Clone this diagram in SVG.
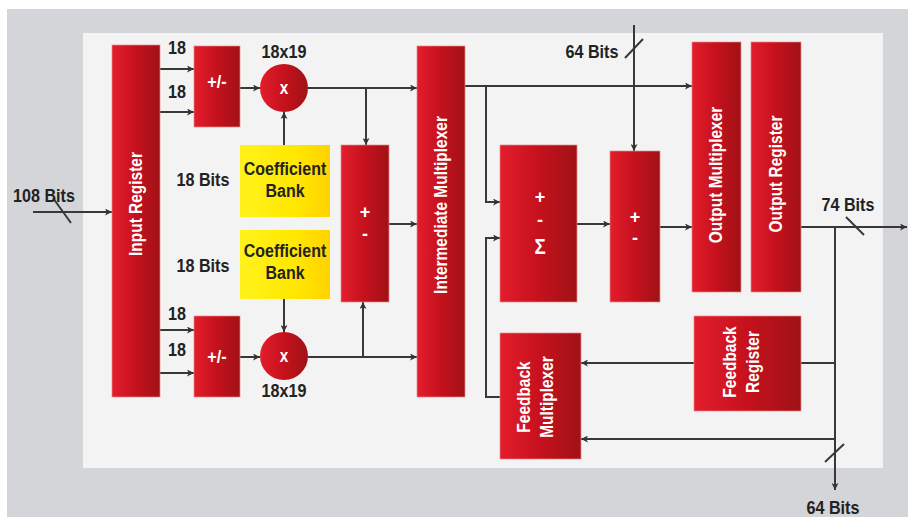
<svg xmlns="http://www.w3.org/2000/svg" width="908" height="517" viewBox="0 0 908 517">
<defs>
<linearGradient id="red" x1="0" y1="0" x2="1" y2="0">
<stop offset="0" stop-color="#e41d2c"/>
<stop offset="0.5" stop-color="#c5111d"/>
<stop offset="1" stop-color="#a01216"/>
</linearGradient>
<linearGradient id="yel" x1="0" y1="0" x2="1" y2="0">
<stop offset="0" stop-color="#fff21c"/>
<stop offset="0.6" stop-color="#ffe800"/>
<stop offset="1" stop-color="#ffd200"/>
</linearGradient>
<marker id="ah" viewBox="0 0 10 10" refX="10" refY="5" markerWidth="8" markerHeight="7" orient="auto-start-reverse" markerUnits="userSpaceOnUse">
<path d="M0,0 L10,5 L0,10 L2.5,5 z" fill="#333"/>
</marker>
<style>
.blk{fill:url(#red);stroke:#ec8a8a;stroke-width:0.7}
.yb{fill:url(#yel)}
.w{fill:#fff;font-family:"Liberation Sans",Arial,sans-serif;font-weight:bold;font-size:18px;text-anchor:middle;dominant-baseline:central}
.k{fill:#222;font-family:"Liberation Sans",Arial,sans-serif;font-weight:bold;font-size:19px;text-anchor:middle;dominant-baseline:central}
.ln{fill:none;stroke:#383838;stroke-width:2}
.ar{marker-end:url(#ah)}
</style>
</defs>
<rect x="7" y="9" width="901" height="508" fill="#d3d5d8"/>
<rect x="83" y="33" width="800" height="435" fill="#f3f3f3"/>

<g id="connectors">
<path class="ln ar" d="M33,212 H112"/>
<path class="ln" d="M53,198 L71,223"/>
<path class="ln ar" d="M160,69 H194"/>
<path class="ln ar" d="M160,112 H194"/>
<path class="ln ar" d="M240,88 H260"/>
<path class="ln ar" d="M284,145 V112"/>
<path class="ln ar" d="M308,88 H417"/>
<path class="ln ar" d="M366,88 V145"/>
<path class="ln ar" d="M389,224 H417"/>
<path class="ln ar" d="M160,330 H194"/>
<path class="ln ar" d="M160,373 H194"/>
<path class="ln ar" d="M240,357 H260"/>
<path class="ln ar" d="M284,299 V332"/>
<path class="ln ar" d="M308,357 H417"/>
<path class="ln ar" d="M363,357 V302"/>
<path class="ln ar" d="M465,86 H692"/>
<path class="ln ar" d="M486,86 V202 H500"/>
<path class="ln ar" d="M500,397 H486 V238 H500"/>
<path class="ln ar" d="M634,25 V151"/>
<path class="ln" d="M625,58 L643,39"/>
<path class="ln ar" d="M577,224 H610"/>
<path class="ln ar" d="M660,227 H692"/>
<path class="ln ar" d="M801,227 H907"/>
<path class="ln" d="M846,217 L864,235"/>
<path class="ln ar" d="M835,227 V490"/>
<path class="ln" d="M825,462 L844,444"/>
<path class="ln" d="M835,363 H801"/>
<path class="ln ar" d="M694,363 H581"/>
<path class="ln ar" d="M835,439 H581"/>
</g>

<g id="input-register"><rect class="blk" x="112" y="45" width="48" height="352"/><text class="w" transform="translate(136,204) rotate(-90) scale(0.86,1)">Input Register</text></g>
<g id="addsub-top"><rect class="blk" x="194" y="46" width="46" height="81"/><text class="w" transform="translate(217,82) scale(0.9,1)">+/-</text></g>
<g id="addsub-bottom"><rect class="blk" x="194" y="316" width="46" height="81"/><text class="w" transform="translate(217,357) scale(0.9,1)">+/-</text></g>
<g id="mult-top"><circle cx="284" cy="88" r="24" fill="url(#red)"/><text class="w" transform="translate(284,88) scale(0.85,1)">x</text><text class="k" transform="translate(284,52) scale(0.85,1)">18x19</text></g>
<g id="mult-bottom"><circle cx="284" cy="356" r="24" fill="url(#red)"/><text class="w" transform="translate(284,356) scale(0.85,1)">x</text><text class="k" transform="translate(284,391) scale(0.85,1)">18x19</text></g>
<g id="coef-1"><rect class="yb" x="240" y="145" width="90" height="72"/><text class="k" transform="translate(285,169) scale(0.84,1)">Coefficient</text><text class="k" transform="translate(285,191) scale(0.84,1)">Bank</text></g>
<g id="coef-2"><rect class="yb" x="240" y="230" width="90" height="69"/><text class="k" transform="translate(285,251) scale(0.84,1)">Coefficient</text><text class="k" transform="translate(285,273) scale(0.84,1)">Bank</text></g>
<g id="adder-mid"><rect class="blk" x="341" y="145" width="48" height="157"/><text class="w" x="365" y="212">+</text><text class="w" x="365" y="234">-</text></g>
<g id="inter-mux"><rect class="blk" x="417" y="46" width="48" height="351"/><text class="w" transform="translate(441,205) rotate(-90) scale(0.86,1)">Intermediate Multiplexer</text></g>
<g id="sigma"><rect class="blk" x="500" y="145" width="77" height="157"/><text class="w" x="540" y="197">+</text><text class="w" x="540" y="220">-</text><text class="w" transform="translate(540,246) scale(0.85,1)" style="font-size:22px">Σ</text></g>
<g id="adder-right"><rect class="blk" x="610" y="151" width="50" height="151"/><text class="w" x="635" y="217">+</text><text class="w" x="635" y="238">-</text></g>
<g id="output-mux"><rect class="blk" x="692" y="42" width="49" height="250"/><text class="w" transform="translate(716,175) rotate(-90) scale(0.86,1)">Output Multiplexer</text></g>
<g id="output-reg"><rect class="blk" x="751" y="42" width="50" height="250"/><text class="w" transform="translate(776,174) rotate(-90) scale(0.86,1)">Output Register</text></g>
<g id="feedback-reg"><rect class="blk" x="694" y="316" width="107" height="95"/><text class="w" transform="translate(730,362) rotate(-90) scale(0.86,1)">Feedback</text><text class="w" transform="translate(753,362) rotate(-90) scale(0.86,1)">Register</text></g>
<g id="feedback-mux"><rect class="blk" x="500" y="333" width="81" height="126"/><text class="w" transform="translate(524,397) rotate(-90) scale(0.86,1)">Feedback</text><text class="w" transform="translate(547,397) rotate(-90) scale(0.86,1)">Multiplexer</text></g>

<g id="labels">
<text class="k" transform="translate(44,196) scale(0.85,1)">108 Bits</text>
<text class="k" transform="translate(177,48) scale(0.85,1)">18</text>
<text class="k" transform="translate(177,92) scale(0.85,1)">18</text>
<text class="k" transform="translate(177,314) scale(0.85,1)">18</text>
<text class="k" transform="translate(177,350) scale(0.85,1)">18</text>
<text class="k" transform="translate(203,180) scale(0.85,1)">18 Bits</text>
<text class="k" transform="translate(203,266) scale(0.85,1)">18 Bits</text>
<text class="k" transform="translate(592,52) scale(0.85,1)">64 Bits</text>
<text class="k" transform="translate(848,205) scale(0.85,1)">74 Bits</text>
<text class="k" transform="translate(833,508) scale(0.85,1)">64 Bits</text>
</g>
</svg>
